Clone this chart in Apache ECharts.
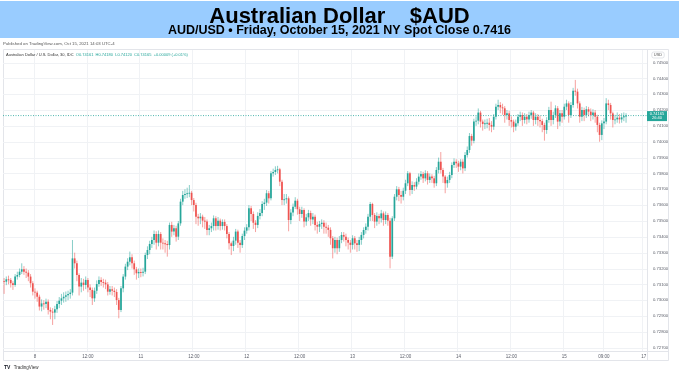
<!DOCTYPE html>
<html><head><meta charset="utf-8">
<script src="https://cdn.jsdelivr.net/npm/echarts@6/dist/echarts.min.js"></script>
<style>html,body{margin:0;padding:0;background:#fff}#c{width:679px;height:374px}</style>
</head><body><div id="c"></div>
<script>
// ---- data (AUD/USD 30-minute candles, Oct 7 17:00 – Oct 15 14:00 NY) ----
const closes = [
0.73117,0.73132,0.73128,0.73107,0.73096,0.73149,0.73159,0.73180,0.73195,0.73180,
0.73174,0.73149,0.73107,0.73054,0.73048,0.73022,0.72960,0.72980,0.72976,0.72991,
0.72939,0.72928,0.72922,0.72943,0.72976,0.72997,0.73012,0.73022,0.73031,0.73039,
0.73048,0.73264,0.73233,0.73159,0.73086,0.73111,0.73096,0.73128,0.73081,0.73065,
0.73012,0.73060,0.73102,0.73128,0.73115,0.73111,0.73100,0.73054,0.73069,0.73060,
0.73052,0.73001,0.72939,0.73075,0.73149,0.73212,0.73243,0.73271,0.73233,0.73195,
0.73170,0.73178,0.73174,0.73180,0.73285,0.73317,0.73355,0.73380,0.73418,0.73363,
0.73418,0.73363,0.73359,0.73355,0.73348,0.73475,0.73433,0.73454,0.73401,0.73485,
0.73622,0.73664,0.73670,0.73675,0.73678,0.73632,0.73601,0.73527,0.73517,0.73527,
0.73502,0.73496,0.73443,0.73454,0.73468,0.73517,0.73468,0.73502,0.73468,0.73494,
0.73468,0.73418,0.73359,0.73342,0.73376,0.73433,0.73363,0.73348,0.73405,0.73439,
0.73460,0.73580,0.73544,0.73489,0.73475,0.73532,0.73550,0.73607,0.73616,0.73675,
0.73643,0.73801,0.73809,0.73822,0.73826,0.73748,0.73632,0.73637,0.73643,0.73506,
0.73553,0.73590,0.73628,0.73574,0.73544,0.73569,0.73496,0.73523,0.73550,0.73510,
0.73527,0.73475,0.73464,0.73481,0.73489,0.73464,0.73458,0.73444,0.73391,0.73328,
0.73380,0.73328,0.73380,0.73412,0.73401,0.73380,0.73363,0.73349,0.73391,0.73359,
0.73349,0.73380,0.73412,0.73443,0.73464,0.73527,0.73607,0.73538,0.73496,0.73532,
0.73517,0.73548,0.73506,0.73538,0.73502,0.73275,0.73517,0.73653,0.73700,0.73664,
0.73653,0.73691,0.73738,0.73801,0.73696,0.73727,0.73717,0.73748,0.73780,0.73797,
0.73769,0.73801,0.73759,0.73780,0.73769,0.73738,0.73822,0.73874,0.73822,0.73780,
0.73738,0.73759,0.73790,0.73853,0.73874,0.73864,0.73843,0.73874,0.73832,0.73916,
0.73948,0.74036,0.74007,0.74127,0.74133,0.74184,0.74127,0.74112,0.74116,0.74120,
0.74106,0.74095,0.74158,0.74221,0.74232,0.74217,0.74211,0.74169,0.74179,0.74137,
0.74127,0.74095,0.74116,0.74158,0.74169,0.74137,0.74158,0.74141,0.74169,0.74184,
0.74137,0.74158,0.74137,0.74130,0.74106,0.74074,0.74137,0.74200,0.74137,0.74169,
0.74211,0.74127,0.74179,0.74158,0.74221,0.74242,0.74169,0.74232,0.74322,0.74316,
0.74242,0.74158,0.74200,0.74169,0.74205,0.74190,0.74169,0.74184,0.74158,0.74106,
0.74043,0.74116,0.74127,0.74242,0.74232,0.74179,0.74137,0.74141,0.74152,0.74141,
0.74154,0.74161,0.74165];
const opens = [
0.73120,0.73117,0.73132,0.73128,0.73107,0.73096,0.73149,0.73159,0.73180,0.73195,
0.73180,0.73174,0.73149,0.73107,0.73054,0.73048,0.73022,0.72960,0.72980,0.72976,
0.72991,0.72939,0.72928,0.72922,0.72943,0.72976,0.72997,0.73012,0.73022,0.73031,
0.73039,0.73048,0.73264,0.73233,0.73159,0.73086,0.73111,0.73096,0.73128,0.73081,
0.73065,0.73012,0.73060,0.73102,0.73128,0.73115,0.73111,0.73100,0.73054,0.73069,
0.73060,0.73052,0.73001,0.72939,0.73075,0.73149,0.73212,0.73243,0.73271,0.73233,
0.73195,0.73170,0.73178,0.73174,0.73180,0.73285,0.73317,0.73355,0.73380,0.73418,
0.73363,0.73418,0.73363,0.73359,0.73355,0.73348,0.73475,0.73433,0.73454,0.73401,
0.73485,0.73622,0.73664,0.73670,0.73675,0.73678,0.73632,0.73601,0.73527,0.73517,
0.73527,0.73502,0.73496,0.73443,0.73454,0.73468,0.73517,0.73468,0.73502,0.73468,
0.73494,0.73468,0.73418,0.73359,0.73342,0.73376,0.73433,0.73363,0.73348,0.73405,
0.73439,0.73460,0.73580,0.73544,0.73489,0.73475,0.73532,0.73550,0.73607,0.73616,
0.73675,0.73643,0.73801,0.73809,0.73822,0.73826,0.73748,0.73632,0.73637,0.73643,
0.73506,0.73553,0.73590,0.73628,0.73574,0.73544,0.73569,0.73496,0.73523,0.73550,
0.73510,0.73527,0.73475,0.73464,0.73481,0.73489,0.73464,0.73458,0.73444,0.73391,
0.73328,0.73380,0.73328,0.73380,0.73412,0.73401,0.73380,0.73363,0.73349,0.73391,
0.73359,0.73349,0.73380,0.73412,0.73443,0.73464,0.73527,0.73607,0.73538,0.73496,
0.73532,0.73517,0.73548,0.73506,0.73538,0.73502,0.73275,0.73517,0.73653,0.73700,
0.73664,0.73653,0.73691,0.73738,0.73801,0.73696,0.73727,0.73717,0.73748,0.73780,
0.73797,0.73769,0.73801,0.73759,0.73780,0.73769,0.73738,0.73822,0.73874,0.73822,
0.73780,0.73738,0.73759,0.73790,0.73853,0.73874,0.73864,0.73843,0.73874,0.73832,
0.73916,0.73948,0.74036,0.74007,0.74127,0.74133,0.74184,0.74127,0.74112,0.74116,
0.74120,0.74106,0.74095,0.74158,0.74221,0.74232,0.74217,0.74211,0.74169,0.74179,
0.74137,0.74127,0.74095,0.74116,0.74158,0.74169,0.74137,0.74158,0.74141,0.74169,
0.74184,0.74137,0.74158,0.74137,0.74130,0.74106,0.74074,0.74137,0.74200,0.74137,
0.74169,0.74211,0.74127,0.74179,0.74158,0.74221,0.74242,0.74169,0.74232,0.74322,
0.74316,0.74242,0.74158,0.74200,0.74169,0.74205,0.74190,0.74169,0.74184,0.74158,
0.74106,0.74043,0.74116,0.74127,0.74242,0.74232,0.74179,0.74137,0.74141,0.74152,
0.74141,0.74154,0.74161];
const highs = [
0.73140,0.73150,0.73155,0.73140,0.73120,0.73165,0.73180,0.73200,0.73233,0.73215,
0.73200,0.73190,0.73165,0.73120,0.73075,0.73060,0.73035,0.73005,0.73000,0.73010,
0.73005,0.72955,0.72950,0.72965,0.72995,0.73020,0.73040,0.73050,0.73055,0.73060,
0.73070,0.73380,0.73300,0.73250,0.73170,0.73140,0.73135,0.73150,0.73140,0.73100,
0.73080,0.73080,0.73125,0.73150,0.73145,0.73135,0.73130,0.73115,0.73090,0.73090,
0.73080,0.73070,0.73015,0.73090,0.73165,0.73230,0.73265,0.73307,0.73290,0.73250,
0.73210,0.73200,0.73200,0.73205,0.73300,0.73340,0.73375,0.73400,0.73440,0.73435,
0.73440,0.73430,0.73390,0.73380,0.73375,0.73490,0.73495,0.73475,0.73470,0.73500,
0.73640,0.73690,0.73700,0.73710,0.73727,0.73690,0.73645,0.73615,0.73545,0.73550,
0.73540,0.73525,0.73510,0.73475,0.73490,0.73535,0.73530,0.73525,0.73515,0.73510,
0.73510,0.73480,0.73430,0.73370,0.73400,0.73450,0.73445,0.73380,0.73420,0.73460,
0.73480,0.73600,0.73595,0.73560,0.73505,0.73555,0.73575,0.73625,0.73640,0.73695,
0.73690,0.73815,0.73830,0.73845,0.73848,0.73835,0.73760,0.73670,0.73670,0.73655,
0.73575,0.73610,0.73650,0.73640,0.73590,0.73590,0.73580,0.73545,0.73570,0.73565,
0.73550,0.73540,0.73495,0.73500,0.73510,0.73505,0.73490,0.73475,0.73460,0.73405,
0.73400,0.73395,0.73405,0.73430,0.73430,0.73420,0.73395,0.73380,0.73410,0.73405,
0.73380,0.73400,0.73430,0.73460,0.73485,0.73545,0.73620,0.73615,0.73550,0.73555,
0.73545,0.73570,0.73560,0.73560,0.73550,0.73520,0.73530,0.73670,0.73720,0.73715,
0.73690,0.73710,0.73760,0.73815,0.73810,0.73750,0.73745,0.73770,0.73800,0.73815,
0.73810,0.73820,0.73815,0.73800,0.73795,0.73785,0.73840,0.73900,0.73935,0.73835,
0.73790,0.73780,0.73810,0.73870,0.73895,0.73890,0.73880,0.73890,0.73890,0.73935,
0.73970,0.74055,0.74050,0.74145,0.74160,0.74210,0.74195,0.74140,0.74140,0.74145,
0.74150,0.74130,0.74175,0.74240,0.74265,0.74250,0.74240,0.74225,0.74200,0.74195,
0.74160,0.74140,0.74140,0.74175,0.74190,0.74185,0.74180,0.74175,0.74190,0.74200,
0.74195,0.74180,0.74175,0.74165,0.74145,0.74120,0.74155,0.74220,0.74253,0.74190,
0.74230,0.74225,0.74200,0.74200,0.74240,0.74265,0.74255,0.74250,0.74340,0.74390,
0.74335,0.74255,0.74220,0.74215,0.74225,0.74220,0.74210,0.74205,0.74200,0.74170,
0.74120,0.74135,0.74150,0.74275,0.74265,0.74245,0.74190,0.74170,0.74185,0.74175,
0.74180,0.74185,0.74180];
const lows = [
0.73040,0.73095,0.73100,0.73080,0.73065,0.73085,0.73130,0.73145,0.73165,0.73160,
0.73140,0.73120,0.73080,0.73030,0.73010,0.72990,0.72935,0.72930,0.72940,0.72950,
0.72910,0.72880,0.72844,0.72880,0.72920,0.72950,0.72970,0.72985,0.72990,0.73000,
0.73010,0.73030,0.73200,0.73120,0.73030,0.73050,0.73060,0.73070,0.73050,0.73020,
0.72970,0.72990,0.73040,0.73085,0.73090,0.73080,0.73070,0.73030,0.73035,0.73030,
0.73020,0.72970,0.72886,0.72925,0.73050,0.73130,0.73190,0.73220,0.73200,0.73160,
0.73130,0.73140,0.73145,0.73150,0.73165,0.73260,0.73290,0.73330,0.73350,0.73320,
0.73340,0.73320,0.73320,0.73300,0.73275,0.73320,0.73400,0.73410,0.73370,0.73380,
0.73470,0.73600,0.73640,0.73645,0.73650,0.73600,0.73560,0.73480,0.73470,0.73480,
0.73460,0.73450,0.73410,0.73410,0.73430,0.73440,0.73440,0.73445,0.73440,0.73445,
0.73440,0.73390,0.73320,0.73285,0.73310,0.73350,0.73330,0.73300,0.73330,0.73380,
0.73420,0.73440,0.73500,0.73450,0.73430,0.73455,0.73510,0.73530,0.73570,0.73595,
0.73610,0.73630,0.73780,0.73790,0.73800,0.73720,0.73600,0.73600,0.73610,0.73435,
0.73480,0.73530,0.73575,0.73540,0.73500,0.73520,0.73460,0.73470,0.73500,0.73470,
0.73480,0.73440,0.73420,0.73430,0.73450,0.73420,0.73420,0.73400,0.73350,0.73264,
0.73300,0.73290,0.73305,0.73360,0.73370,0.73340,0.73320,0.73300,0.73320,0.73320,
0.73305,0.73310,0.73350,0.73390,0.73420,0.73440,0.73500,0.73500,0.73455,0.73470,
0.73480,0.73490,0.73470,0.73480,0.73470,0.73201,0.73260,0.73500,0.73630,0.73625,
0.73610,0.73630,0.73670,0.73720,0.73660,0.73670,0.73690,0.73700,0.73730,0.73760,
0.73740,0.73750,0.73730,0.73740,0.73740,0.73710,0.73720,0.73800,0.73800,0.73740,
0.73675,0.73710,0.73740,0.73770,0.73835,0.73835,0.73810,0.73820,0.73800,0.73815,
0.73900,0.73930,0.73975,0.73990,0.74100,0.74110,0.74090,0.74070,0.74080,0.74085,
0.74070,0.74060,0.74075,0.74140,0.74200,0.74180,0.74170,0.74120,0.74140,0.74100,
0.74090,0.74060,0.74070,0.74100,0.74130,0.74100,0.74115,0.74110,0.74120,0.74145,
0.74100,0.74110,0.74100,0.74090,0.74060,0.74007,0.74050,0.74120,0.74100,0.74110,
0.74150,0.74080,0.74100,0.74120,0.74140,0.74200,0.74120,0.74150,0.74215,0.74290,
0.74210,0.74120,0.74130,0.74130,0.74150,0.74160,0.74130,0.74140,0.74120,0.74060,
0.74000,0.74010,0.74080,0.74110,0.74200,0.74140,0.74090,0.74110,0.74120,0.74115,
0.74120,0.74130,0.74120];
const yTickValues = [0.727,0.728,0.729,0.730,0.731,0.732,0.733,0.734,0.735,0.736,
  0.737,0.738,0.739,0.740,0.741,0.742,0.743,0.744,0.745];
const xTickIndex = [14,38,62,86,110,134,158,182,206,230,254,272,290];
const xTickText = ['8','12:00','11','12:00','12','12:00','13','12:00','14','12:00','15','09:00','17'];
const lastPrice = 0.74165;
const countdown = '26:40';
const totalSlots = 292;

// categories: 30-minute slots, weekend closed (Fri 17:00 – Sun 17:00 NY)
const categories = [];
(function(){
  let t = Date.UTC(2021, 9, 7, 17, 0);
  const p = n => (n < 10 ? '0' : '') + n;
  while (categories.length < totalSlots) {
    const d = new Date(t), dow = d.getUTCDay(), hr = d.getUTCHours();
    const closed = (dow === 5 && hr >= 17) || dow === 6 || (dow === 0 && hr < 17);
    if (!closed) categories.push(p(d.getUTCMonth()+1) + '-' + p(d.getUTCDate()) + ' ' + p(hr) + ':' + p(d.getUTCMinutes()));
    t += 1800000;
  }
})();

const candleData = closes.map((c, i) => [i, opens[i], c, lows[i], highs[i]]);
const tickLabelAt = {};
xTickIndex.forEach((k, j) => { tickLabelAt[k] = xTickText[j]; });

const UP = '#26a69a', DOWN = '#ef5350';
const F = 'Liberation Sans, Arial, sans-serif';

function renderCandle(params, api) {
  const i = api.value(0), o = api.value(1), c = api.value(2), l = api.value(3), h = api.value(4);
  const pO = api.coord([i, o]), pC = api.coord([i, c]), pL = api.coord([i, l]), pH = api.coord([i, h]);
  const w = api.size([1, 0])[0] * 0.78;
  const up = c >= o;
  const top = Math.min(pO[1], pC[1]);
  const hgt = Math.max(Math.abs(pO[1] - pC[1]), 0.9);
  return { type: 'group', children: [
    { type: 'line', shape: { x1: pH[0], y1: pH[1], x2: pL[0], y2: pL[1] },
      style: { stroke: up ? 'rgba(38,166,154,0.55)' : 'rgba(239,83,80,0.55)', lineWidth: 1 } },
    { type: 'rect', shape: { x: pO[0] - w / 2, y: top, width: w, height: hgt },
      style: { fill: up ? UP : DOWN } }
  ]};
}
function renderGridLine(params, api) {
  const cs = params.coordSys;
  const y = Math.round(api.coord([0, api.value(1)])[1]) + 0.5;
  return { type: 'line', shape: { x1: cs.x, y1: y, x2: cs.x + cs.width, y2: y },
    style: { stroke: '#f0f2f5', lineWidth: 1 } };
}
function renderPriceLine(params, api) {
  const cs = params.coordSys;
  const y = api.coord([0, api.value(1)])[1];
  const xr = cs.x + cs.width;
  return { type: 'group', children: [
    { type: 'line', shape: { x1: cs.x, y1: y, x2: xr, y2: y },
      style: { stroke: UP, lineWidth: 0.8, lineDash: [1, 1.5] } },
    { type: 'rect', shape: { x: xr, y: y - 4.5, width: 20, height: 10 }, style: { fill: UP } },
    { type: 'text', x: xr + 10, y: y - 2, style: { text: api.value(1).toFixed(5), fontSize: 4, fontFamily: F,
      fill: '#fff', align: 'center', verticalAlign: 'middle' } },
    { type: 'text', x: xr + 10, y: y + 2.6, style: { text: countdown, fontSize: 4, fontFamily: F,
      fill: '#fff', align: 'center', verticalAlign: 'middle' } }
  ]};
}

const chart = echarts.init(document.getElementById('c'), null, { renderer: 'canvas' });
chart.setOption({
  animation: false,
  backgroundColor: '#ffffff',
  grid: { left: 3, right: 32, top: 49, bottom: 23 },
  xAxis: {
    type: 'category', data: categories, boundaryGap: true,
    axisLine: { show: false }, axisTick: { show: false, alignWithLabel: true },
    axisLabel: { interval: (idx) => tickLabelAt[idx] !== undefined,
      formatter: (v, idx) => tickLabelAt[idx] || '', color: '#5d606b', fontSize: 4.5, fontFamily: F, margin: 3 },
    splitLine: { show: true, interval: (idx) => tickLabelAt[idx] !== undefined,
      lineStyle: { color: '#f0f2f5', width: 1 } }
  },
  yAxis: {
    type: 'value', position: 'right', min: 0.726796, max: 0.745852, scale: true,
    axisLine: { show: false }, axisTick: { show: false },
    splitLine: { show: false },
    axisLabel: { customValues: yTickValues, formatter: v => v.toFixed(5),
      color: '#5d606b', fontSize: 4.2, fontFamily: F, margin: 6 }
  },
  series: [
    { type: 'custom', renderItem: renderGridLine, silent: true, z: 1,
      data: yTickValues.map(v => [0, v]), encode: { x: 0, y: 1 } },
    { type: 'custom', renderItem: renderCandle, data: candleData, silent: true,
      encode: { x: 0, y: [1, 2, 3, 4] }, z: 3 },
    { type: 'custom', renderItem: renderPriceLine, silent: true, z: 5, clip: false,
      data: [[0, lastPrice]], encode: { x: 0, y: 1 } }
  ],
  graphic: [
    { type: 'rect', silent: true, shape: { x: 0, y: 1, width: 679, height: 37 }, style: { fill: '#99ccff' }, z: 0 },
    { type: 'text', silent: true, x: 339.5, y: 16.5, style: { text: 'Australian Dollar    $AUD', fontSize: 22, fontWeight: 'bold',
      fontFamily: F, fill: '#000', align: 'center', verticalAlign: 'middle' } },
    { type: 'text', silent: true, x: 339.5, y: 31, style: { text: 'AUD/USD \u2022 Friday, October 15, 2021 NY Spot Close 0.7416', fontSize: 12.5,
      fontWeight: 'bold', fontFamily: 'Liberation Sans Narrow, Arial Narrow, sans-serif', fill: '#000', align: 'center', verticalAlign: 'middle' } },
    { type: 'text', silent: true, x: 3, y: 44, style: { text: 'Published on TradingView.com, Oct 15, 2021 14:03 UTC-4', fontSize: 4.3,
      fontFamily: F, fill: '#555', verticalAlign: 'middle' } },
    { type: 'rect', silent: true, shape: { x: 3.5, y: 49.5, width: 665, height: 311 }, style: { fill: 'none', stroke: '#e3e5ea', lineWidth: 1 }, z: 1 },
    { type: 'line', silent: true, shape: { x1: 647.5, y1: 49.5, x2: 647.5, y2: 360.5 }, style: { stroke: '#e3e5ea', lineWidth: 1 }, z: 1 },
    { type: 'line', silent: true, shape: { x1: 3.5, y1: 351.5, x2: 668.5, y2: 351.5 }, style: { stroke: '#e3e5ea', lineWidth: 1 }, z: 1 },
    { type: 'text', silent: true, x: 6, y: 55, z: 10, style: { verticalAlign: 'middle', fontSize: 4, fontFamily: F,
      text: '{a|Australian Dollar / U.S. Dollar, 30, IDC  }{b|O0.74161  H0.74180  L0.74120  C0.74165  +0.00009 (+0.01%)}',
      rich: { a: { fill: '#333', fontSize: 4, fontFamily: F }, b: { fill: UP, fontSize: 4, fontFamily: F } } } },
    { type: 'text', silent: true, x: 658, y: 55, z: 10, style: { text: 'USD', fontSize: 4, fontFamily: F, fill: '#555',
      align: 'center', verticalAlign: 'middle', borderColor: '#d0d3da', borderWidth: 0.6, borderRadius: 2, padding: [1, 2, 1, 2] } },
    { type: 'text', silent: true, x: 4, y: 368, z: 10, style: { verticalAlign: 'middle', fontFamily: F,
      text: '{t|TV} {n|TradingView}', rich: { t: { fontSize: 5, fontWeight: 'bold', fill: '#131722' }, n: { fontSize: 4.5, fill: '#333' } } } }
  ]
});
</script></body></html>
